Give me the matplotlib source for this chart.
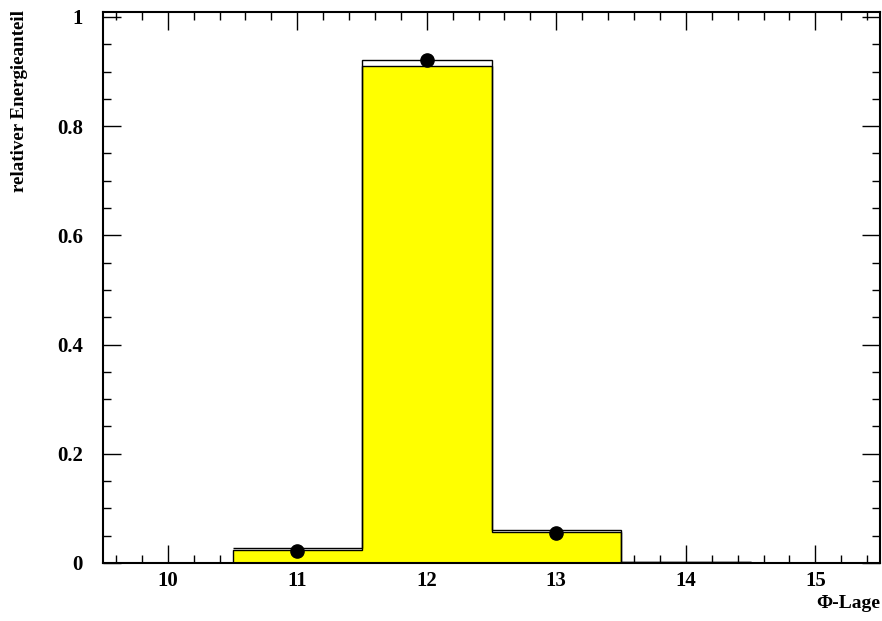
import matplotlib
matplotlib.use("Agg")
import matplotlib.pyplot as plt
import numpy as np
from matplotlib.ticker import MultipleLocator, FixedLocator, FuncFormatter

# Phi positions (bin centres) and energy fractions
phi_bins = [11, 12, 13, 14]
energy_filled = [0.024, 0.910, 0.057, 0.002]
energy_outline = [0.028, 0.921, 0.060, 0.002]
point_phi = [11, 12, 13]
point_energy = [0.0225, 0.921, 0.055]

plt.rcParams["font.family"] = ["Liberation Serif", "DejaVu Serif"]
plt.rcParams["font.weight"] = "bold"

fig = plt.figure(figsize=(8.82, 6.21), dpi=100)
ax = fig.add_axes([0.1168, 0.0934, 0.881, 0.8873])

centres = np.array(phi_bins, dtype=float)
edges = np.append(centres - 0.5, centres[-1] + 0.5)

ax.stairs(energy_filled, edges, fill=True, color="#ffff00", zorder=2)
ax.stairs(energy_filled, edges, color="black", linewidth=1.0, baseline=0, zorder=3)
ax.stairs(energy_outline, edges, color="black", linewidth=1.0, baseline=None, zorder=3)
ax.plot(point_phi, point_energy, "o", color="black", markersize=9.5, zorder=4)

ax.set_xlim(9.5, 15.5)
ax.set_ylim(0, 1.009)

ax.xaxis.set_major_locator(FixedLocator([10, 11, 12, 13, 14, 15]))
ax.xaxis.set_minor_locator(MultipleLocator(0.2))
ax.yaxis.set_major_locator(FixedLocator([0, 0.2, 0.4, 0.6, 0.8, 1.0]))
ax.yaxis.set_minor_locator(MultipleLocator(0.05))

ax.yaxis.set_major_formatter(FuncFormatter(lambda v, p: "%g" % round(v, 2)))

ax.tick_params(which="both", direction="in", top=True, right=True,
               width=1.0, labelsize=15, color="black")
ax.tick_params(which="major", length=13)
ax.tick_params(which="minor", length=6)
ax.tick_params(axis="x", which="major", pad=5.5)
ax.tick_params(axis="y", which="major", pad=14.4)

for s in ax.spines.values():
    s.set_linewidth(1.5)

ax.set_ylabel("relativer Energieanteil", fontsize=13.7, fontweight="bold")
ax.yaxis.set_label_coords(-0.096, 0.838)
ax.set_xlabel("\u03a6-Lage", fontsize=14, fontweight="bold")
ax.xaxis.set_label_coords(1.0, -0.058)
ax.xaxis.label.set_horizontalalignment("right")

fig.savefig("out.png", dpi=100)
